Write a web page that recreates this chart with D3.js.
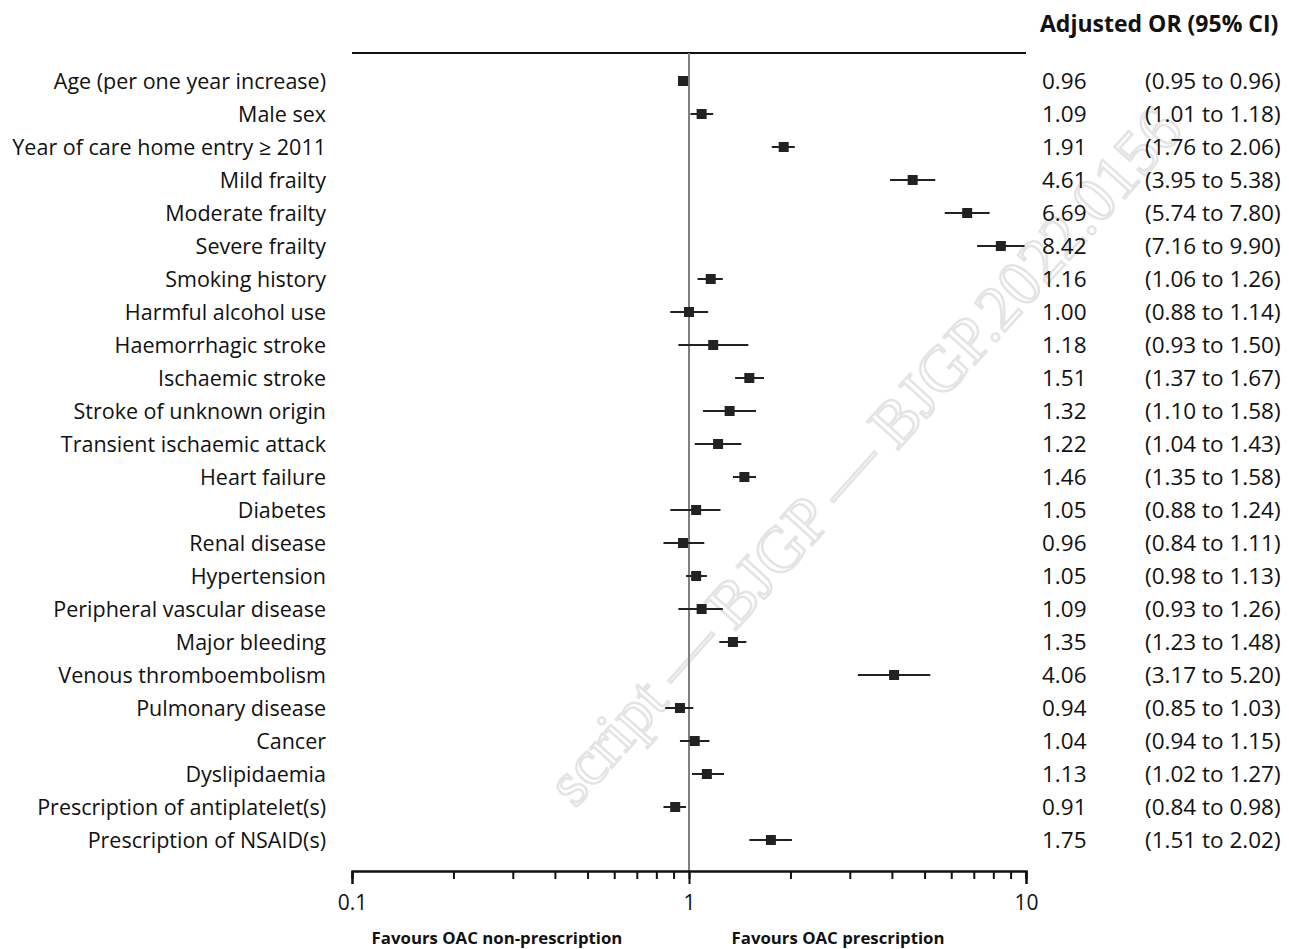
<!DOCTYPE html>
<html>
<head>
<meta charset="utf-8">
<script src="https://cdn.jsdelivr.net/npm/d3@7"></script>
<style>
  body { margin: 0; background: #fff; }
  text { font-family: "Open Sans", Lato, sans-serif; fill: #111; }
</style>
</head>
<body>
<div id="plot"></div>
<script>
const svgWidth = 1289;
const svgHeight = 949;

const labels = [
    "Age (per one year increase)", "Male sex", "Year of care home entry \u2265 2011",
    "Mild frailty", "Moderate frailty", "Severe frailty", "Smoking history",
    "Harmful alcohol use", "Haemorrhagic stroke", "Ischaemic stroke",
    "Stroke of unknown origin", "Transient ischaemic attack", "Heart failure",
    "Diabetes", "Renal disease", "Hypertension", "Peripheral vascular disease",
    "Major bleeding", "Venous thromboembolism", "Pulmonary disease", "Cancer",
    "Dyslipidaemia", "Prescription of antiplatelet(s)", "Prescription of NSAID(s)"
];
const oddsRatio = [0.96, 1.09, 1.91, 4.61, 6.69, 8.42, 1.16, 1.00, 1.18, 1.51, 1.32, 1.22,
    1.46, 1.05, 0.96, 1.05, 1.09, 1.35, 4.06, 0.94, 1.04, 1.13, 0.91, 1.75];
const ciLow = [0.95, 1.01, 1.76, 3.95, 5.74, 7.16, 1.06, 0.88, 0.93, 1.37, 1.10, 1.04,
    1.35, 0.88, 0.84, 0.98, 0.93, 1.23, 3.17, 0.85, 0.94, 1.02, 0.84, 1.51];
const ciHigh = [0.96, 1.18, 2.06, 5.38, 7.80, 9.90, 1.26, 1.14, 1.50, 1.67, 1.58, 1.43,
    1.58, 1.24, 1.11, 1.13, 1.26, 1.48, 5.20, 1.03, 1.15, 1.27, 0.98, 2.02];
const tickLabels = [0.1, 1, 10];

const rows = labels.map((d, i) => ({
    label: d, or: oddsRatio[i], lo: ciLow[i], hi: ciHigh[i]
}));

const fmt = d3.format(".2f");

const xScale = d3.scaleLog().domain([0.1, 10]).range([352, 1026]);
const yScale = d3.scalePoint().domain(labels).range([81, 840]);

const svg = d3.select("#plot")
    .append("svg")
    .attr("width", svgWidth)
    .attr("height", svgHeight);

// faint watermark, kept inside the picture
svg.append("text")
    .attr("transform", "translate(880, 470) rotate(-48)")
    .attr("text-anchor", "middle")
    .style("font-family", "'Liberation Serif', serif")
    .style("font-size", "64px")
    .style("fill", "none")
    .style("stroke", "#e4e4e4")
    .style("stroke-width", 2.5)
    .text("script \u2014 BJGP \u2014 BJGP.2022.0156");

// top line
svg.append("line")
    .attr("x1", xScale(0.1)).attr("x2", xScale(10))
    .attr("y1", 53).attr("y2", 53)
    .attr("stroke", "#111").attr("stroke-width", 2);

// reference line at 1
svg.append("line")
    .attr("x1", xScale(1)).attr("x2", xScale(1))
    .attr("y1", 53).attr("y2", 871)
    .attr("stroke", "#808080").attr("stroke-width", 2);

// x axis
const minorTicks = d3.range(1, 10).map(d => d * 0.1).concat(d3.range(1, 11));
const xAxisMinor = d3.axisBottom(xScale)
    .tickValues(minorTicks)
    .tickSize(8)
    .tickFormat("");
const xAxis = d3.axisBottom(xScale)
    .tickValues(tickLabels)
    .tickSize(13)
    .tickPadding(11)
    .tickFormat(d => d);

const axisG = svg.append("g").attr("transform", "translate(0, 871)");
axisG.append("g").call(xAxisMinor);
axisG.append("g").call(xAxis);
axisG.selectAll("path.domain").attr("stroke", "#111").attr("stroke-width", 2);
axisG.selectAll(".tick line").attr("stroke", "#111").attr("stroke-width", 2);
axisG.selectAll(".tick text")
    .style("font-family", "'Open Sans', Lato, sans-serif")
    .style("font-size", "21px")
    .attr("fill", "#111");

// bottom labels
svg.append("text")
    .attr("x", 497).attr("y", 944)
    .attr("text-anchor", "middle")
    .style("font-size", "16.8px").style("font-weight", "bold")
    .text("Favours OAC non-prescription");
svg.append("text")
    .attr("x", 838).attr("y", 944)
    .attr("text-anchor", "middle")
    .style("font-size", "16.8px").style("font-weight", "bold")
    .text("Favours OAC prescription");

// header
svg.append("text")
    .attr("x", 1040).attr("y", 32)
    .style("font-size", "23px").style("font-weight", "bold")
    .text("Adjusted OR (95% CI)");

// rows
const rowG = svg.append("g")
    .selectAll("g")
    .data(rows)
    .enter()
    .append("g")
    .attr("transform", d => `translate(0, ${yScale(d.label)})`);

rowG.append("text")
    .attr("x", 326).attr("dy", "0.35em")
    .attr("text-anchor", "end")
    .style("font-size", "21.5px")
    .text(d => d.label);

rowG.append("line")
    .attr("x1", d => xScale(d.lo))
    .attr("x2", d => xScale(d.hi))
    .attr("stroke", "#222").attr("stroke-width", 2);

rowG.append("rect")
    .attr("x", d => xScale(d.or) - 5)
    .attr("y", -5)
    .attr("width", 10).attr("height", 10)
    .attr("fill", "#222");

rowG.append("text")
    .attr("x", 1042).attr("dy", "0.35em")
    .style("font-size", "22.5px")
    .text(d => fmt(d.or));

rowG.append("text")
    .attr("x", 1145).attr("dy", "0.35em")
    .style("font-size", "22.5px")
    .text(d => `(${fmt(d.lo)} to ${fmt(d.hi)})`);
</script>
</body>
</html>
